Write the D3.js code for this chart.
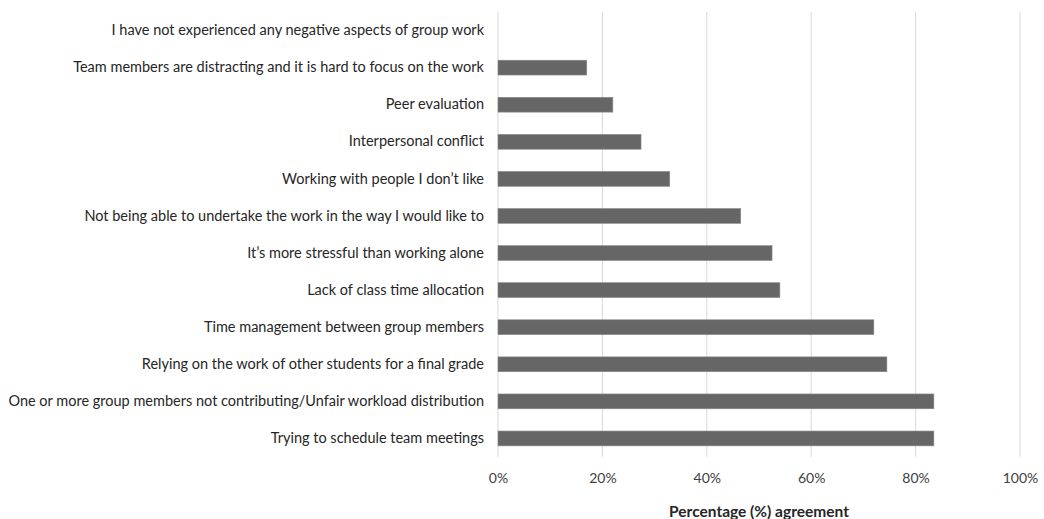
<!DOCTYPE html>
<html>
<head>
<meta charset="utf-8">
<script src="https://cdn.jsdelivr.net/npm/d3@7"></script>
<style>
  body { margin: 0; background: #fff; }
  svg text { font-family: Lato, "Open Sans", sans-serif; }
</style>
</head>
<body>
<div id="chart"></div>
<script>
// categories top to bottom
const categories = [
  "I have not experienced any negative aspects of group work",
  "Team members are distracting and it is hard to focus on the work",
  "Peer evaluation ",
  "Interpersonal conflict",
  "Working with people I don\u2019t like ",
  "Not being able to undertake the work in the way I would like to",
  "It\u2019s more stressful  than working alone",
  "Lack of class time allocation",
  "Time management between group members",
  "Relying on the work of other students for a final grade",
  "One or more group members not contributing/Unfair workload distribution",
  "Trying to schedule team meetings "
];
const agreement = [0, 17, 22, 27.4, 32.9, 46.5, 52.5, 54, 72, 74.5, 83.5, 83.5];
const tickValues = [0, 0.2, 0.4, 0.6, 0.8, 1];
const axisTitle = "Percentage (%) agreement";

const width = 1044, height = 519;
const margin = { top: 12, right: 24, bottom: 62, left: 498 };
const innerW = width - margin.left - margin.right;
const innerH = height - margin.top - margin.bottom;

const data = categories.map((c, i) => ({ label: c, value: agreement[i] / 100 }));

const svg = d3.select("#chart").append("svg")
  .attr("width", width)
  .attr("height", height);

const g = svg.append("g")
  .attr("transform", "translate(" + margin.left + "," + margin.top + ")");

const x = d3.scaleLinear().domain([0, 1]).range([0, innerW]);
const y = d3.scaleBand().domain(categories).range([0, innerH]).paddingInner(0.6).paddingOuter(0.3);

// gridlines
g.selectAll(".grid")
  .data(tickValues)
  .enter()
  .append("line")
  .attr("class", "grid")
  .attr("x1", d => x(d))
  .attr("x2", d => x(d))
  .attr("y1", 0)
  .attr("y2", innerH)
  .attr("stroke", "#d9d9d9")
  .attr("stroke-width", 1);

// bars
g.selectAll(".bar")
  .data(data)
  .enter()
  .append("rect")
  .attr("class", "bar")
  .attr("x", x(0))
  .attr("y", d => y(d.label))
  .attr("width", d => x(d.value))
  .attr("height", y.bandwidth())
  .attr("fill", "#666666")
  .attr("stroke", d => d.value > 0 ? "#8a8a8a" : "none")
  .attr("stroke-width", 0.6);

// category labels
const yAxis = d3.axisLeft(y).tickSize(0).tickPadding(14);
g.append("g")
  .call(yAxis)
  .call(a => a.select(".domain").remove())
  .selectAll("text")
  .attr("fill", "#262626")
  .style("font-size", "14.5px");

// x axis
const xAxis = d3.axisBottom(x).tickValues(tickValues).tickFormat(d3.format(".0%")).tickSize(0).tickPadding(16);
g.append("g")
  .attr("transform", "translate(0," + innerH + ")")
  .call(xAxis)
  .call(a => a.select(".domain").remove())
  .selectAll("text")
  .attr("fill", "#404040")
  .style("font-size", "14px");

svg.append("text")
  .attr("x", margin.left + innerW / 2)
  .attr("y", 517)
  .attr("text-anchor", "middle")
  .attr("fill", "#262626")
  .style("font-size", "15.5px")
  .style("font-weight", "bold")
  .text(axisTitle);
</script>
</body>
</html>
